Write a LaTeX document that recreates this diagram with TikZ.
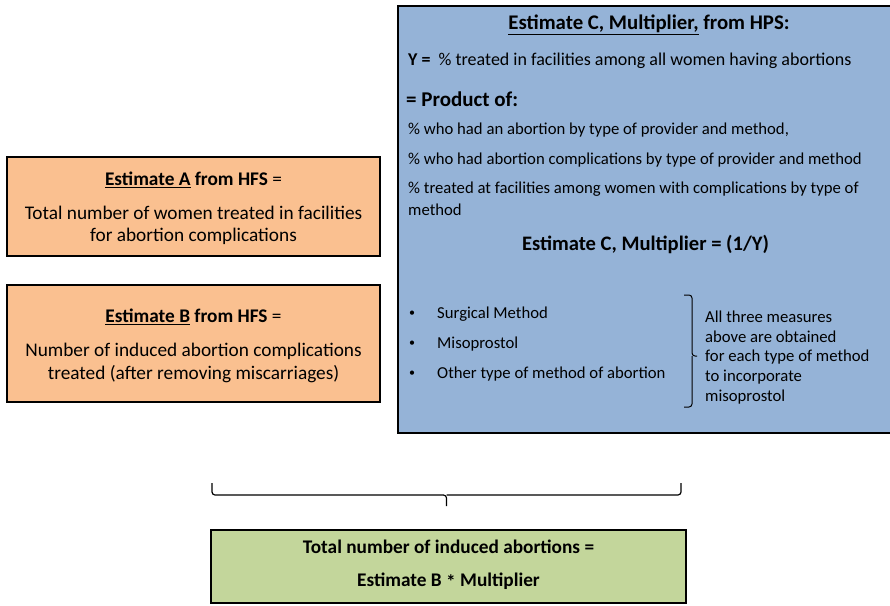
\documentclass[tikz,border=0pt]{standalone}
\usepackage{fontspec}
\setmainfont{Carlito}
\definecolor{orangefill}{HTML}{FAC090}
\definecolor{bluefill}{HTML}{95B3D7}
\definecolor{greenfill}{HTML}{C3D69B}
\tikzset{
  boxstyle/.style={draw=black, line width=2.6pt},
  txtA/.style={inner sep=0pt, font=\fontsize{19.3}{23}\selectfont},
  txtC/.style={inner sep=0pt, anchor=west, font=\fontsize{18}{21}\selectfont},
  txtS/.style={inner sep=0pt, anchor=west, font=\fontsize{16.7}{20}\selectfont},
  bracestyle/.style={draw=black, line width=1.2pt, rounded corners=3pt},
}
\begin{document}
\begin{tikzpicture}[x=1pt,y=-1pt]
\useasboundingbox (0,0) rectangle (890,605);
\clip (0,0) rectangle (890,605);
% boxes
\path[boxstyle, fill=orangefill] (7,157) rectangle (380,256);
\node[inner sep=0pt] (boxA) at (193.5,206.5) {};
\path[boxstyle, fill=orangefill] (7,285) rectangle (380,402);
\node[inner sep=0pt] (boxB) at (193.5,343.5) {};
\path[boxstyle, fill=bluefill] (398,6) rectangle (900,433);
\node[inner sep=0pt] (boxC) at (644,220) {};
\path[boxstyle, fill=greenfill] (211,530) rectangle (686,603);
\node[inner sep=0pt] (boxD) at (448.5,566.5) {};
% box A text
\node[txtA] (a1) at (193.5,180) {\textbf{\underline{Estimate A}} \textbf{from HFS} =};
\node[txtA] (a2) at (193.5,213) {Total number of women treated in facilities};
\node[txtA] (a3) at (193.5,236) {for abortion complications};
% box B text
\node[txtA] (b1) at (193.5,317) {\textbf{\underline{Estimate B}} \textbf{from HFS} =};
\node[txtA] (b2) at (193.5,351) {Number of induced abortion complications};
\node[txtA] (b3) at (193.5,374) {treated (after removing miscarriages)};
% box C text
\node[txtA, font=\fontsize{20.8}{24}\selectfont\bfseries] (c0) at (649,25) {\underline{Estimate C, Multiplier,} from HPS:};
\node[txtC] (c1) at (408,61) {\textbf{Y =}\ \ \% treated in facilities among all women having abortions};
\node[txtC, font=\fontsize{21}{25}\selectfont\bfseries] (c2) at (406,99) {= Product of:};
\node[txtS] (c3) at (408,130) {\% who had an abortion by type of provider and method,};
\node[txtS] (c4) at (408,160) {\% who had abortion complications by type of provider and method};
\node[txtS] (c5) at (408,189) {\% treated at facilities among women with complications by type of};
\node[txtS] (c6) at (408,210) {method};
\node[txtA, font=\fontsize{20.6}{24}\selectfont\bfseries] (c7) at (645.5,244) {Estimate C, Multiplier = (1/Y)};
% bullets
\node[txtS, font=\fontsize{12}{14}\selectfont] (d1b) at (409,314) {\textbullet};
\node[txtS] (d1) at (437,314) {Surgical Method};
\node[txtS, font=\fontsize{12}{14}\selectfont] (d2b) at (409,344) {\textbullet};
\node[txtS] (d2) at (437,344) {Misoprostol};
\node[txtS, font=\fontsize{12}{14}\selectfont] (d3b) at (409,374) {\textbullet};
\node[txtS] (d3) at (437,374) {Other type of method of abortion};
% right brace
\draw[bracestyle, line width=1pt] (684,295) -- (692,295) -- (692,356) -- (697,356);
\draw[bracestyle, line width=1pt] (684,407) -- (692,407) -- (692,356);
\node[txtS] (e1) at (705,317) {All three measures};
\node[txtS] (e2) at (705,337) {above are obtained};
\node[txtS] (e3) at (705,357) {for each type of method};
\node[txtS] (e4) at (705,377) {to incorporate};
\node[txtS] (e5) at (705,397) {misoprostol};
% bottom brace
\coordinate (brL) at (212,483);
\coordinate (brR) at (681,483);
\coordinate (brT) at (446.5,506);
\draw[bracestyle] (brL) -- (212,495) -- (446.5,495) -- (brT);
\draw[bracestyle] (brR) -- (681,495) -- (446.5,495);
% box D text
\node[txtA, font=\fontsize{19.3}{23}\selectfont\bfseries] (f1) at (448.5,547) {Total number of induced abortions =};
\node[txtA, font=\fontsize{19.3}{23}\selectfont\bfseries] (f2) at (448.5,581) {Estimate B \raisebox{-2.5pt}{*} Multiplier};
\end{tikzpicture}
\end{document}
